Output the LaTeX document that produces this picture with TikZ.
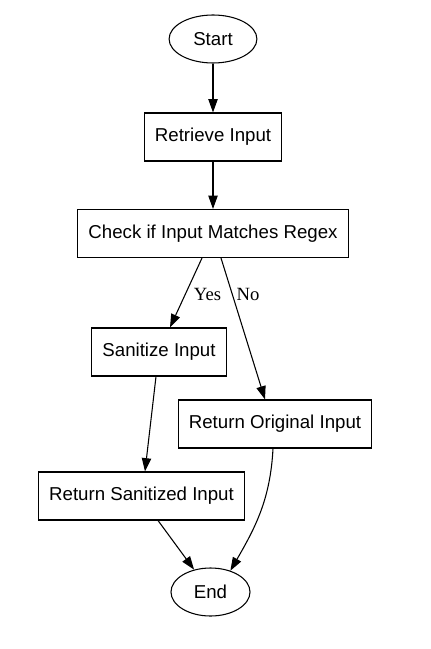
\documentclass[tikz,border=0pt]{standalone}
\usepackage{fontspec}
\setmainfont{Liberation Sans}
\newfontfamily\labelfont{Liberation Serif}
\usetikzlibrary{shapes.geometric,arrows.meta}
\begin{document}
\begin{tikzpicture}
		[x=0.75pt,y=-0.75pt,line width=0.8pt,
		term/.style={ellipse,draw,inner xsep=8.5pt,minimum height=36pt,font=\fontsize{14}{16}\selectfont},
		stepbox/.style={rectangle,draw,inner xsep=8pt,minimum height=36pt,font=\fontsize{14}{16}\selectfont},
		lbl/.style={inner sep=1pt,font=\labelfont\fontsize{14}{16}\selectfont},
		>={Triangle[length=10pt,width=7pt]}]
		\useasboundingbox (0,0) rectangle (430,649);
		\node[term,name=start]at(213,39){Start};
		\node[stepbox,name=retrieve]at(213,137){Retrieve Input};
		\node[stepbox,name=check]at(213,233.5){Check if Input Matches Regex};
		\node[stepbox,name=sanitize]at(159,352){Sanitize Input};
		\node[stepbox,name=original]at(275,424){Return Original Input};
		\node[stepbox,name=sanitized]at(141.5,496){Return Sanitized Input};
		\node[term,name=end]at(210.5,592){End};
		\draw[->] (start)--(retrieve);
		\draw[->] (retrieve)--(check);
		\draw[->] ([xshift=-8.25pt]check.south)--([xshift=8.25pt]sanitize.north) node[lbl,pos=0.52,right=5pt]{Yes};
		\draw[->] ([xshift=6pt]check.south)--([xshift=-7.5pt]original.north) node[lbl,pos=0.26,right=1.7pt]{No};
		\draw[->] ([xshift=-2.25pt]sanitize.south)--([xshift=2.6pt]sanitized.north);
		\draw[->] ([xshift=12.4pt]sanitized.south)--(end);
		\draw[->] ([xshift=-1.5pt]original.south) to [out=-93,in=60] (end.47);
	\end{tikzpicture}
\end{document}
